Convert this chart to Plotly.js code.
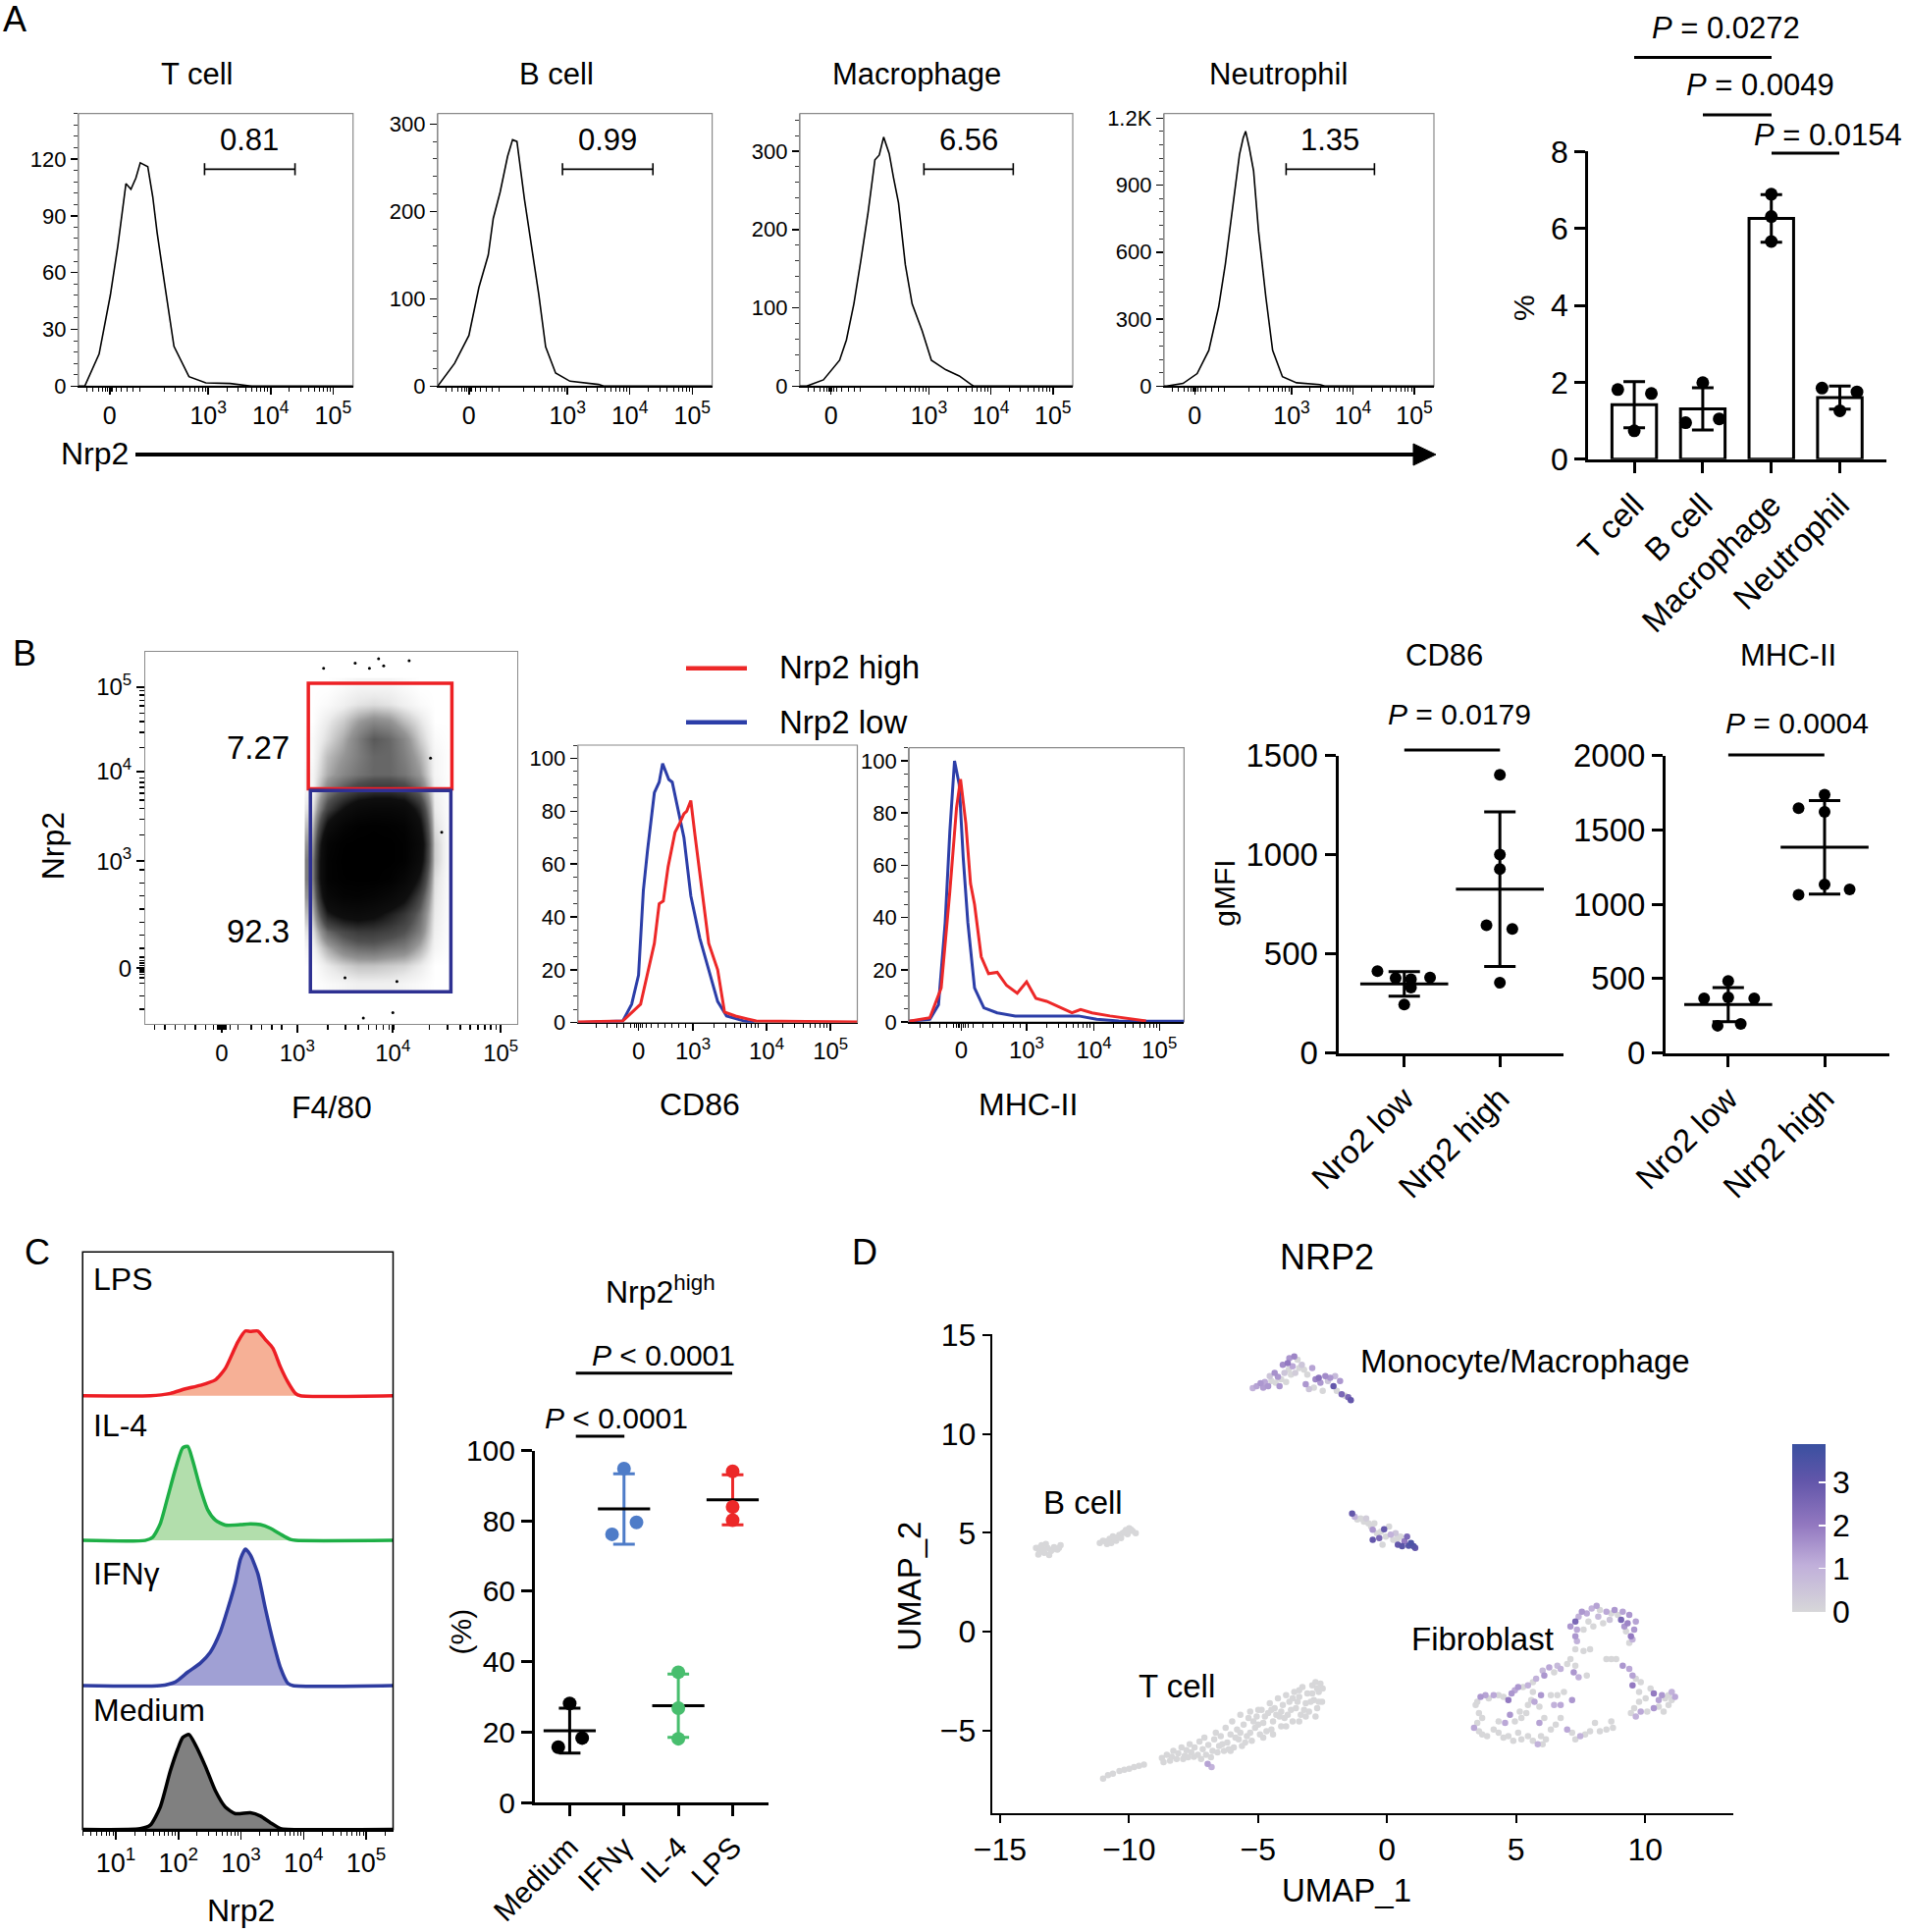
<!DOCTYPE html>
<html>
<head>
<meta charset="utf-8">
<script src="https://cdn.plot.ly/plotly-3.0.1.min.js"></script>
<style>
  body { margin: 0; background: #fff; }
  #fig { width: 1944px; height: 1968px; }
</style>
</head>
<body>
<div id="fig"></div>
<script>
// ---- A: Nrp2 histograms, x in log10 display units (FlowJo "0" sits at ~1.42) ----
var tcellU = [0.92, 1.02, 1.25, 1.43, 1.55, 1.68, 1.76, 1.84, 1.91, 2.03, 2.11, 2.18, 2.30, 2.45, 2.69, 2.96, 3.35, 3.58, 3.70, 5.32];
var tcellN = [0, 0, 17, 48, 74, 107, 104, 110, 118, 116, 100, 81, 54, 21, 5, 1.7, 1.4, 0.3, 0, 0];
var bcellU = [0.92, 1.19, 1.42, 1.58, 1.73, 1.81, 1.92, 2.04, 2.12, 2.19, 2.31, 2.42, 2.54, 2.65, 2.81, 3.04, 3.50, 3.58, 5.32];
var bcellN = [0, 26, 58, 113, 150, 192, 222, 263, 282, 280, 214, 162, 105, 45, 15, 5.6, 1.9, 0, 0];
var macU = [0.92, 1.03, 1.30, 1.56, 1.67, 1.79, 1.90, 2.02, 2.13, 2.20, 2.27, 2.36, 2.43, 2.51, 2.62, 2.73, 2.89, 3.04, 3.27, 3.49, 3.68, 3.72, 5.32];
var macN = [0, 0, 8, 33, 59, 105, 159, 222, 289, 295, 318, 297, 266, 234, 155, 105, 71, 33, 21, 13, 2, 0, 0];
var neuU = [0.92, 0.96, 1.23, 1.46, 1.65, 1.81, 1.92, 2.04, 2.15, 2.21, 2.25, 2.31, 2.38, 2.46, 2.58, 2.69, 2.85, 3.08, 3.46, 3.54, 5.32];
var neuN = [0, 0, 12, 56, 160, 354, 547, 814, 1037, 1111, 1141, 1067, 963, 695, 398, 160, 42, 15, 7, 0, 0];
var gateStart = [2.94, 2.92, 2.92, 2.91];
var gateEnd = [4.39, 4.37, 4.36, 4.35];
var gatePct = ['0.81', '0.99', '6.56', '1.35'];
var cellTypes = ['T cell', 'B cell', 'Macrophage', 'Neutrophil'];

// ---- A: % Nrp2+ bar chart ----
var pctMean = [1.42, 1.31, 6.26, 1.60];
var pctSD = [0.60, 0.55, 0.62, 0.30];
var pctPts = [[1.81, 1.71, 0.74], [1.99, 0.95, 1.05], [6.89, 6.31, 5.66], [1.85, 1.75, 1.26]];
var pctJit = [[-0.24, 0.25, 0], [0, -0.25, 0.24], [0, 0, 0], [-0.26, 0.25, 0]];

// ---- B: F4/80 vs Nrp2 dot plot (density read on a coarse grid) ----
var dotXc = [3.15, 3.3, 3.45, 3.6, 3.75, 3.9, 4.05, 4.2, 4.35, 4.5];
var dotYc = [1.6, 1.8, 2.0, 2.2, 2.4, 2.6, 2.8, 3.0, 3.2, 3.4, 3.6, 3.8, 4.0, 4.2, 4.4, 4.6, 4.8, 5.0];
var dotDensity = [
  [0, 0.01, 0.02, 0.03, 0.03, 0.03, 0.02, 0.01, 0, 0],
  [0, 0.04, 0.07, 0.09, 0.09, 0.08, 0.07, 0.04, 0, 0],
  [0.02, 0.12, 0.2, 0.24, 0.25, 0.22, 0.2, 0.12, 0.02, 0],
  [0.05, 0.25, 0.33, 0.38, 0.38, 0.35, 0.3, 0.2, 0.03, 0],
  [0.1, 0.5, 0.62, 0.65, 0.6, 0.5, 0.4, 0.25, 0.04, 0],
  [0.15, 0.75, 0.88, 0.9, 0.85, 0.75, 0.6, 0.35, 0.05, 0],
  [0.2, 0.9, 0.98, 1, 1, 0.95, 0.8, 0.5, 0.06, 0],
  [0.2, 0.9, 1, 1, 1, 1, 0.95, 0.65, 0.08, 0],
  [0.15, 0.85, 0.98, 1, 1, 1, 0.95, 0.7, 0.08, 0],
  [0.1, 0.6, 0.85, 0.95, 0.98, 0.95, 0.9, 0.6, 0.06, 0],
  [0.05, 0.35, 0.55, 0.7, 0.75, 0.75, 0.7, 0.45, 0.04, 0],
  [0.02, 0.2, 0.3, 0.38, 0.42, 0.42, 0.38, 0.25, 0.03, 0],
  [0.02, 0.12, 0.18, 0.22, 0.25, 0.25, 0.22, 0.15, 0.02, 0],
  [0.01, 0.1, 0.15, 0.2, 0.25, 0.25, 0.2, 0.12, 0.02, 0],
  [0.01, 0.06, 0.12, 0.2, 0.28, 0.25, 0.18, 0.08, 0.01, 0],
  [0, 0.04, 0.08, 0.14, 0.18, 0.16, 0.1, 0.05, 0, 0],
  [0, 0.01, 0.03, 0.05, 0.06, 0.05, 0.03, 0.01, 0, 0],
  [0, 0, 0.01, 0.02, 0.02, 0.02, 0.01, 0, 0, 0]
];
var strayX = [3.26, 3.57, 3.71, 3.80, 3.85, 4.10, 3.47, 3.98, 3.65, 3.94, 4.42, 4.31];
var strayY = [5.21, 5.27, 5.21, 5.32, 5.24, 5.30, 1.66, 1.62, 1.20, 1.26, 3.33, 4.18];
var gateHigh = [3.11, 4.52, 3.83, 5.04];
var gateLow = [3.13, 4.51, 1.50, 3.81];

// ---- B: CD86 / MHC-II overlays (% of max) ----
var cd86LowU = [1.33, 1.98, 2.11, 2.21, 2.28, 2.34, 2.44, 2.51, 2.56, 2.61, 2.65, 2.70, 2.77, 2.87, 2.97, 3.10, 3.23, 3.36, 3.49, 3.75, 3.89];
var cd86LowN = [0, 0.6, 7, 18, 50, 65, 87, 91, 98, 95, 92, 91, 82, 70, 48, 32, 20, 8, 2.5, 0.6, 0];
var cd86HighU = [1.33, 1.98, 2.24, 2.34, 2.44, 2.51, 2.57, 2.64, 2.74, 2.80, 2.87, 2.91, 2.97, 3.03, 3.13, 3.23, 3.36, 3.46, 3.62, 3.92, 5.39];
var cd86HighN = [0.3, 0.6, 7, 18, 30, 45, 46, 59, 72, 75, 79, 80, 84, 71, 50, 30, 20, 4, 2.5, 0.6, 0.3];
var mhcLowU = [1.24, 1.55, 1.68, 1.78, 1.85, 1.92, 1.99, 2.05, 2.12, 2.22, 2.36, 2.56, 2.83, 3.37, 3.78, 4.05, 4.38, 5.36];
var mhcLowN = [0.3, 1, 6.6, 38, 73, 100, 91, 63, 38, 13, 5.4, 3.5, 2.3, 2.3, 2.3, 1, 0.4, 0.3];
var mhcHighU = [1.24, 1.55, 1.72, 1.85, 1.95, 2.01, 2.09, 2.16, 2.22, 2.32, 2.43, 2.56, 2.70, 2.86, 3.0, 3.14, 3.30, 3.51, 3.68, 3.81, 3.98, 4.25, 4.59, 4.79];
var mhcHighN = [0.3, 1.6, 13, 50, 82, 93, 76, 53, 45, 25, 18.5, 19, 14, 11, 15.4, 9, 7.9, 5.4, 3.5, 4.8, 3.5, 2.3, 1, 0.4];

// ---- B: gMFI ----
var gmfiCats = ['Nro2 low', 'Nrp2 high'];
var cd86Low = [413, 378, 372, 381, 244, 330];
var cd86LowJit = [-0.28, -0.09, 0.07, 0.27, 0, 0.07];
var cd86High = [1403, 1001, 928, 644, 625, 354];
var cd86HighJit = [0, 0, 0, -0.14, 0.13, 0];
var cd86Mean = [348, 826];
var cd86SD = [62, 390];
var mhcLow = [484, 367, 374, 367, 183, 196];
var mhcLowJit = [0, -0.25, 0, 0.27, -0.11, 0.13];
var mhcHigh = [1736, 1646, 1621, 1064, 1132, 1100];
var mhcHighJit = [0, -0.27, 0, -0.27, 0, 0.26];
var mhcMean = [325, 1383];
var mhcSD = [114, 314];

// ---- C: stimulated macrophages, Nrp2 (log10) ----
var lpsU = [0.47, 1.55, 1.87, 2.11, 2.35, 2.59, 2.75, 2.87, 2.95, 3.07, 3.15, 3.27, 3.39, 3.51, 3.63, 3.75, 3.87, 3.95, 5.43];
var lpsN = [0, 0, 1.6, 4.7, 7.2, 11, 19, 30, 37.5, 45, 44.7, 45, 39, 33, 20, 9.4, 1.6, 0, 0];
var il4U = [0.47, 1.47, 1.59, 1.71, 1.83, 1.95, 2.07, 2.15, 2.23, 2.35, 2.47, 2.59, 2.75, 2.99, 3.15, 3.31, 3.47, 3.63, 3.79, 3.87, 5.43];
var il4N = [0, 0, 2.2, 11.5, 30, 49, 64, 65, 55, 36, 21, 14, 10.6, 10.9, 11.5, 10.9, 8.4, 4.3, 0.6, 0, 0];
var ifnU = [0.47, 1.71, 1.95, 2.15, 2.35, 2.51, 2.67, 2.79, 2.91, 2.99, 3.07, 3.15, 3.27, 3.39, 3.51, 3.63, 3.75, 3.83, 5.43];
var ifnN = [0, 0, 2.5, 9.3, 15.5, 23, 37, 53, 71, 87, 94, 90, 77, 53, 31, 12.4, 1.5, 0, 0];
var medU = [0.47, 1.39, 1.55, 1.71, 1.87, 1.99, 2.07, 2.17, 2.27, 2.43, 2.59, 2.75, 2.91, 3.15, 3.31, 3.47, 3.63, 3.75, 5.43];
var medN = [0, 0.6, 3, 15.6, 40.6, 56, 64, 66, 59, 44, 27, 15.6, 11, 11.6, 9.4, 4.7, 0.6, 0, 0];

var conds = ['Medium', 'IFNγ', 'IL-4', 'LPS'];
var highPts = [[28.1, 15.7, 18.3], [94.9, 79.6, 76.2], [37, 26.8, 18.1], [94.1, 84, 80.2]];
var highJit = [[0, -0.21, 0.23], [0, 0.23, -0.22], [0, 0, 0], [0, 0, 0]];
var highMean = [20.4, 83.4, 27.5, 86.0];
var highSD = [6.4, 10.0, 9.0, 7.1];

// ---- D: UMAP, NRP2 expression ----
var monoX = [-5.205, -5.053, -4.901, -4.80, -4.737, -4.61, -4.547, -4.483, -4.357, -4.318, -4.23, -4.167, -4.103, -4.04, -3.977, -3.913, -3.85, -3.812, -3.787, -3.723, -3.66, -3.597, -3.559, -3.47, -3.407, -3.305, -3.217, -3.153, -3.09, -3.027, -2.90, -2.837, -2.773, -2.647, -2.583, -2.495, -2.393, -2.292, -2.203, -2.077, -2.014, -1.95, -1.823, -1.76, -1.634, -1.507, -1.406,
  -1.355, -1.254, -1.152, -1.026, -0.899, -0.81, -0.722, -0.62, -0.557, -0.494, -0.392, -0.304, -0.24, -0.114, -0.05, 0.076, 0.14, 0.24, 0.33, 0.418, 0.52, 0.583, 0.672, 0.773, 0.836, 0.925, 1.026, 1.09, 0.393, -0.557, -0.177];
var monoY = [12.31, 12.42, 12.56, 12.34, 12.62, 12.42, 12.92, 12.67, 13.09, 12.59, 12.89, 12.42, 12.76, 13.50, 13.09, 12.62, 13.58, 13.25, 13.83, 13.0, 13.42, 13.91, 13.09, 13.75, 13.33, 13.5, 13.25, 12.51, 13.0, 12.26, 13.33, 12.34, 12.76, 12.84, 12.59, 12.18, 12.92, 12.67, 12.84, 12.42, 12.92, 12.18, 12.67, 12.01, 11.93, 11.85, 11.71,
  5.97, 5.81, 5.67, 5.72, 5.56, 5.72, 5.48, 5.31, 5.15, 5.48, 4.98, 4.73, 5.06, 5.18, 4.81, 5.31, 4.90, 4.65, 4.98, 4.40, 4.81, 4.32, 4.57, 4.81, 4.35, 4.48, 4.32, 4.24, 4.68, 4.65, 4.40];
var monoE = [1.0, 1.3, 1.5, 1.4, 1.2, 1.5, 0.5, 0, 1.6, 0, 1.5, 1.5, 0, 1.7, 0.5, 0, 2.0, 0, 1.5, 0, 1.2, 1.8, 0.3, 0, 0, 0.5, 0, 1.5, 0, 0.5, 1.3, 0, 1.8, 2.2, 1.5, 0, 1.7, 0.5, 1.5, 3.0, 0.8, 0, 1.5, 2.5, 0, 2.5, 3.0,
  3.0, 1.0, 0, 0, 0, 0.3, 0, 0, 1.5, 0, 0, 2.5, 0, 3.0, 0, 0, 1.0, 0, 0.5, 3.0, 0, 3.2, 2.0, 2.5, 3.3, 3.5, 3.3, 3.0, 0, 3.0, 0];
var bX = [-13.602, -13.475, -13.387, -13.285, -13.159, -13.032, -12.905, -12.779, -12.652, -13.513, -13.095, -13.222, -13.349, -12.969, -12.716, -13.437,
  -11.132, -11.006, -10.854, -10.752, -10.626, -10.499, -10.373, -10.246, -10.119, -9.993, -9.866, -9.739, -10.689, -10.309, -10.056, -10.904, -10.563, -10.182, -9.929, -10.436];
var bY = [4.235, 4.07, 4.367, 3.987, 4.235, 4.07, 4.268, 4.152, 4.367, 3.904, 3.871, 4.433, 4.152, 4.152, 4.235, 4.268,
  4.483, 4.599, 4.434, 4.698, 4.814, 4.599, 4.897, 4.979, 5.145, 5.228, 5.095, 4.979, 4.483, 4.731, 4.93, 4.566, 4.698, 5.029, 5.161, 4.764];
var bE = [0, 0, 0, 0, 0, 0, 0, 0, 0, 0, 0, 0, 0, 0, 0, 0, 0, 0, 0, 0, 0, 0, 0, 0, 0, 0, 0, 0, 0, 0, 0, 0, 0, 0, 0, 0];
var tX = [-11.005, -10.815, -10.625, -10.372, -10.182, -9.992, -9.802, -9.612, -9.422,
  -8.726, -8.536, -8.346, -8.282, -8.092, -7.966, -7.839, -7.776, -7.649, -7.586, -7.459, -7.333, -7.269, -7.143, -7.079, -7.016, -6.927, -6.826, -6.763, -6.699, -6.636, -6.509, -6.446, -6.319, -6.256, -6.193, -6.066, -6.003, -5.939, -5.813, -5.749, -5.686, -5.623, -5.559, -5.433, -5.37, -5.306, -5.243, -5.116, -5.053, -4.926, -4.863, -4.8, -4.673, -4.61, -4.546, -4.42, -4.356, -4.23, -4.166, -4.103, -4.04, -3.913, -3.85, -3.786, -3.66, -3.596, -3.533, -3.406, -3.343, -3.28, -3.153, -3.09, -3.026, -2.9, -2.836, -2.773, -2.71, -2.647, -2.52, -2.495, -2.773,
  -8.662, -8.409, -8.156, -7.903, -7.712, -7.485, -7.206, -6.573, -6.383, -6.13, -5.876, -5.686, -5.496, -5.306, -5.18, -4.99, -4.736, -4.483, -4.293, -3.976, -3.723, -3.47, -3.216, -2.963, -2.71, -2.583, -3.406, -3.66, -4.103, -4.483, -4.99, -4.8, -4.42, -3.913, -3.406, -3.153, -2.647, -2.9, -6.066,
  -6.953, -6.801];
var tY = [-7.428, -7.262, -7.18, -7.047, -6.981, -6.932, -6.849, -6.783, -6.717,
  -6.386, -6.22, -6.32, -6.022, -6.154, -5.856, -6.27, -5.989, -5.691, -6.105, -5.856, -6.22, -5.559, -5.939, -5.36, -6.22, -5.724, -6.353, -6.022, -5.443, -5.112, -5.774, -5.277, -6.022, -4.864, -5.608, -5.195, -4.533, -5.856, -4.946, -5.443, -4.202, -5.774, -4.698, -5.277, -4.367, -4.037, -5.525, -4.864, -4.285, -5.195, -3.954, -4.616, -5.029, -4.119, -3.623, -4.533, -3.871, -3.375, -4.285, -4.781, -3.706, -3.209, -4.202, -3.54, -4.533, -3.044, -3.871, -3.292, -4.202, -2.796, -3.623, -3.127, -4.037, -2.713, -3.458, -2.548, -3.871, -3.044, -3.54, -2.879, -4.285,
  -6.601, -6.518, -6.435, -6.435, -6.353, -6.32, -6.435, -6.105, -5.691, -5.939, -5.36, -5.112, -5.608, -5.112, -4.533, -4.698, -4.285, -4.946, -4.202, -4.367, -3.954, -3.54, -3.954, -3.54, -2.879, -2.63, -2.961, -3.375, -4.037, -3.954, -3.954, -5.36, -5.195, -4.781, -4.533, -4.285, -3.54, -3.127, -6.022,
  -6.684, -6.849];
var tE = [0, 0, 0, 0, 0, 0, 0, 0, 0,
  0, 0, 0, 0, 0, 0, 0, 0, 0, 0, 0, 0, 0, 0, 0, 0, 0, 0, 0, 0, 0, 0, 0, 0, 0, 0, 0, 0, 0, 0, 0, 0, 0, 0, 0, 0, 0, 0, 0, 0, 0, 0, 0, 0, 0, 0, 0, 0, 0, 0, 0, 0, 0, 0, 0, 0, 0, 0, 0, 0, 0, 0, 0, 0, 0, 0, 0, 0, 0, 0, 0, 0,
  0, 0, 0, 0, 0, 0, 0, 0, 0, 0, 0, 0, 0, 0, 0, 0, 0, 0, 0, 0, 0, 0, 0, 0, 0, 0, 0, 0, 0, 0, 0, 0, 0, 0, 0, 0, 0, 0, 0,
  1.3, 1.0];
var fibX = [7.105, 7.295, 7.358, 7.422, 7.295, 7.358, 7.548, 7.612, 7.738, 7.802, 7.928, 7.992, 8.118, 8.182, 8.245, 8.372, 8.498, 8.625, 8.688, 8.815, 8.941, 9.068, 9.131, 9.195, 9.258, 9.321, 9.385, 9.448, 9.511, 9.575, 9.638, 9.385, 7.295, 7.612, 7.865,
  7.105, 7.295, 6.978, 7.232, 7.422, 7.738, 6.725, 6.598, 6.472, 6.282, 6.092, 6.028, 5.775, 5.649, 5.459, 5.268, 5.079, 4.952, 4.825, 4.699, 4.509, 4.319, 4.129, 3.939, 3.812, 3.622, 3.495, 3.432, 3.559, 3.685, 3.495, 3.369, 3.559, 3.685, 3.875, 4.129, 4.319, 4.509, 4.699, 4.889, 5.079, 5.205, 5.459, 5.649, 5.838, 6.028, 5.965, 6.155, 6.345, 6.535, 6.725, 6.978, 7.168, 7.295, 7.485, 7.675, 7.865, 8.055, 8.245, 8.498, 8.688, 8.752,
  4.762, 4.952, 5.142, 5.205, 5.395, 5.459, 5.585, 5.712, 5.902, 5.965, 6.092, 5.902, 6.345, 6.472, 6.598, 6.725, 6.852, 7.168, 4.572, 4.319, 5.649,
  8.498, 8.688, 8.878, 9.131, 9.385, 9.511, 9.638, 9.511, 9.828, 9.765, 10.208, 10.335, 10.018, 9.765, 9.575, 9.448, 9.638, 9.828, 10.081, 10.335, 10.525, 10.651, 10.778, 10.905, 11.031, 11.158, 10.715, 10.905, 10.525, 11.031];
var fibY = [0.265, 0.513, 0.099, 0.761, -0.232, -0.48, 1.009, 0.099, 0.926, 0.513, 1.174, 0.265, 1.307, 0.761, 1.092, 0.43, 1.009, 0.596, 0.926, 1.092, 0.844, 0.596, 1.009, 0.265, 0.016, 0.43, 0.844, -0.232, -0.397, 0.099, 0.513, -0.563, -0.893, -0.976, -0.893,
  -1.39, -1.721, -1.638, -2.051, -2.3, -2.217, -1.886, -1.721, -2.051, -1.804, -2.217, -1.969, -2.382, -2.548, -2.713, -2.796, -2.796, -2.961, -3.127, -3.458, -3.292, -3.209, -3.209, -3.375, -3.209, -3.292, -3.54, -3.706, -4.119, -4.367, -4.616, -4.864, -5.029, -5.195, -5.277, -4.946, -5.112, -5.36, -5.277, -5.525, -5.112, -5.443, -5.277, -5.525, -5.691, -5.691, -5.277, -5.443, -4.946, -4.698, -4.367, -4.946, -5.112, -5.443, -5.277, -5.195, -5.029, -4.616, -5.029, -4.946, -4.533, -4.864,
  -4.202, -4.533, -4.037, -4.367, -4.119, -3.706, -3.458, -3.54, -3.788, -3.209, -4.367, -4.616, -3.209, -3.706, -3.209, -3.706, -3.044, -3.458, -4.616, -4.533, -3.044,
  -1.39, -1.39, -1.39, -1.721, -1.886, -2.217, -2.382, -2.713, -2.548, -3.044, -2.879, -3.127, -3.375, -3.54, -3.871, -4.119, -4.285, -4.037, -4.037, -3.871, -3.788, -3.209, -3.375, -3.209, -3.458, -3.292, -4.037, -3.706, -3.458, -3.044];
var fibE = [1.5, 2.5, 1.2, 1.0, 1.5, 1.0, 1.5, 0, 1.2, 0, 1.0, 0, 1.3, 0.8, 0, 0, 1.2, 0.5, 0, 1.5, 0, 2.5, 1.3, 1.5, 0, 1.8, 1.5, 2.0, 1.0, 1.5, 1.3, 0, 0, 0, 0,
  0, 0, 0, 1.5, 1.0, 0, 1.0, 0.8, 0, 1.2, 1.5, 0.8, 1.0, 0, 1.0, 0, 1.5, 1.2, 1.5, 2.0, 0, 0, 1.2, 0, 1.3, 1.5, 0, 0, 0, 0, 0, 1.2, 0, 0, 0, 0, 0, 0, 0, 0, 0, 0, 0, 0, 1.0, 0, 0, 0, 0, 0, 0, 1.2, 0, 0, 1.0, 0, 0, 0, 0, 0, 0, 0,
  1.5, 0, 0, 0, 0, 0, 0, 1.2, 0, 1.5, 0, 1.3, 0, 1.0, 0, 1.2, 0, 1.5, 1.2, 0, 0,
  0, 0, 0, 1.5, 1.2, 1.3, 0, 2.0, 0, 0, 0, 2.0, 0, 0, 0, 0, 1.0, 1.2, 0, 1.5, 0, 1.5, 0, 0, 0, 1.2, 0, 0, 1.3, 1.0];
var clusterNames = ['Monocyte/Macrophage', 'B cell', 'Fibroblast', 'T cell'];
var clusterLabelX = [-1.13, -13.4, 0.87, -9.71];
var clusterLabelY = [13.68, 6.55, -0.35, -2.73];

// ================= layout helpers =================
var W = 1944, H = 1968;
var F = 'Liberation Sans, Arial, Helvetica, sans-serif';
function fx(p) { return p / W; }
function fy(p) { return 1 - p / H; }
function ax(n) { return n === 1 ? '' : String(n); }
function sup(n) { return '10<sup>' + n + '</sup>'; }
function logMinor(d0, d1) {
  var v = [];
  for (var d = d0; d <= d1; d++) for (var k = 2; k < 10; k++) v.push(d + Math.log10(k));
  return v;
}
function stepTicks(step, max) {
  var v = [];
  for (var t = 0; t <= max + 1e-9; t += step) v.push(t);
  return v;
}
var nearZero = [1.05, 1.15, 1.24, 1.31, 1.36, 1.39, 1.41, 1.44, 1.47, 1.52, 1.6, 1.7, 1.8, 1.9];

var data = [], shapes = [], ann = [];
var L = {
  width: W, height: H, margin: {l: 0, r: 0, t: 0, b: 0},
  paper_bgcolor: 'white', plot_bgcolor: 'rgba(0,0,0,0)',
  showlegend: false, hovermode: false,
  font: {family: F, color: 'black', size: 22},
  shapes: shapes, annotations: ann
};

function txt(px, py, s, size, opt) {
  var a = {x: fx(px), y: fy(py), xref: 'paper', yref: 'paper', text: s, showarrow: false,
    font: {size: size, family: F, color: 'black'}, xanchor: 'center', yanchor: 'middle'};
  for (var k in (opt || {})) a[k] = opt[k];
  ann.push(a);
}
function pline(x0, x1, py, w, color) {
  shapes.push({type: 'line', xref: 'paper', yref: 'paper', x0: fx(x0), x1: fx(x1), y0: fy(py), y1: fy(py),
    line: {color: color || 'black', width: w || 3}});
}

// FlowJo-style histogram axes
function flowAxes(n, xd, yd, xr, yr, xtv, ytv, ytt, xminor, yminor, xfont, yfont) {
  L['xaxis' + ax(n)] = {domain: [fx(xd[0]), fx(xd[1])], range: xr, anchor: 'y' + ax(n),
    tickmode: 'array', tickvals: xtv, ticktext: ['0', sup(3), sup(4), sup(5)],
    ticks: 'outside', ticklen: 7, tickwidth: 1.5, tickcolor: 'black',
    showline: true, linecolor: 'black', linewidth: 1.5, showgrid: false, zeroline: false,
    tickfont: {size: xfont}, minor: {tickmode: 'array', tickvals: xminor, ticks: 'outside', ticklen: 4, tickcolor: 'black', tickwidth: 1}};
  L['yaxis' + ax(n)] = {domain: [fy(yd[1]), fy(yd[0])], range: yr, anchor: 'x' + ax(n),
    tickmode: 'array', tickvals: ytv, ticktext: ytt,
    ticks: 'outside', ticklen: 7, tickwidth: 1.5, tickcolor: 'black',
    showline: true, linecolor: '#8a8a8a', linewidth: 1.2, showgrid: false, zeroline: false,
    tickfont: {size: yfont}, minor: {tickmode: 'array', tickvals: yminor, ticks: 'outside', ticklen: 4, tickcolor: '#333', tickwidth: 1}};
  shapes.push({type: 'rect', xref: 'x' + ax(n) + ' domain', yref: 'y' + ax(n) + ' domain', x0: 0, x1: 1, y0: 0, y1: 1,
    line: {color: '#8a8a8a', width: 1.2}, layer: 'below'});
}

// Prism-style scatter / bar axes
function prismAxes(n, xd, yd, xr, yr, cats, ytv, yfont, cfont) {
  L['xaxis' + ax(n)] = {domain: [fx(xd[0]), fx(xd[1])], range: xr, anchor: 'y' + ax(n),
    tickmode: 'array', tickvals: cats.map(function (c, i) { return i; }), ticktext: cats, tickangle: -45,
    ticks: 'outside', ticklen: 11, tickwidth: 3, tickcolor: 'black',
    showline: true, linewidth: 3, linecolor: 'black', showgrid: false, zeroline: false, tickfont: {size: cfont}};
  L['yaxis' + ax(n)] = {domain: [fy(yd[1]), fy(yd[0])], range: yr, anchor: 'x' + ax(n),
    tickmode: 'array', tickvals: ytv,
    ticks: 'outside', ticklen: 11, tickwidth: 3, tickcolor: 'black',
    showline: true, linewidth: 3, linecolor: 'black', showgrid: false, zeroline: false, tickfont: {size: yfont}};
}

function meanBars(n, means, sds, color, lineW, capW, errColor) {
  data.push({type: 'scatter', mode: 'markers', x: means.map(function (m, i) { return i; }), y: means,
    xaxis: 'x' + ax(n), yaxis: 'y' + ax(n), cliponaxis: false,
    marker: {symbol: 'line-ew', size: lineW, color: color, line: {color: color, width: 3}},
    error_y: {type: 'data', array: sds, visible: true, color: errColor || color, thickness: 3, width: capW}});
}
function dots(n, pos, vals, jit, color, size) {
  data.push({type: 'scatter', mode: 'markers', x: jit.map(function (j) { return pos + j; }), y: vals,
    xaxis: 'x' + ax(n), yaxis: 'y' + ax(n), cliponaxis: false,
    marker: {size: size, color: color}});
}

// ================= Panel A: histograms =================
var histA = [
  {u: tcellU, n: tcellN, ymax: 144, yt: [0, 30, 60, 90, 120], ytt: ['0', '30', '60', '90', '120'], step: 6},
  {u: bcellU, n: bcellN, ymax: 312, yt: [0, 100, 200, 300], ytt: ['0', '100', '200', '300'], step: 20},
  {u: macU, n: macN, ymax: 348, yt: [0, 100, 200, 300], ytt: ['0', '100', '200', '300'], step: 20},
  {u: neuU, n: neuN, ymax: 1220, yt: [0, 300, 600, 900, 1200], ytt: ['0', '300', '600', '900', '1.2K'], step: 60}
];
var histABox = [[80, 359.7], [446, 725.6], [815, 1093], [1186, 1461]];
var histATitleX = [201, 567, 934, 1302];
var flowMinorA = nearZero.concat(logMinor(2, 4));
histA.forEach(function (h, i) {
  var n = i + 1;
  flowAxes(n, histABox[i], [115.7, 393.3], [0.92, 5.32], [0, h.ymax], [1.42, 3, 4, 5], h.yt, h.ytt,
    flowMinorA, stepTicks(h.step, h.ymax), 25, 22);
  data.push({type: 'scatter', mode: 'lines', x: h.u, y: h.n, xaxis: 'x' + ax(n), yaxis: 'y' + ax(n),
    line: {color: 'black', width: 1.6}});
  var xr = 'x' + ax(n), yr = 'y' + ax(n) + ' domain';
  shapes.push({type: 'line', xref: xr, yref: yr, x0: gateStart[i], x1: gateEnd[i], y0: 0.796, y1: 0.796, line: {color: 'black', width: 1.6}});
  shapes.push({type: 'line', xref: xr, yref: yr, x0: gateStart[i], x1: gateStart[i], y0: 0.774, y1: 0.818, line: {color: 'black', width: 1.6}});
  shapes.push({type: 'line', xref: xr, yref: yr, x0: gateEnd[i], x1: gateEnd[i], y0: 0.774, y1: 0.818, line: {color: 'black', width: 1.6}});
  ann.push({xref: xr, yref: yr, x: (gateStart[i] + gateEnd[i]) / 2, y: 0.905, text: gatePct[i], showarrow: false,
    font: {size: 31, family: F}, xanchor: 'center', yanchor: 'middle'});
  txt(histATitleX[i], 76, cellTypes[i], 31);
});
// Nrp2 arrow under the histograms
txt(96, 462, 'Nrp2', 32);
pline(138, 1446, 463, 4);
shapes.push({type: 'path', xref: 'paper', yref: 'paper', fillcolor: 'black', line: {color: 'black', width: 1},
  path: 'M ' + fx(1440) + ' ' + fy(452) + ' L ' + fx(1463) + ' ' + fy(463) + ' L ' + fx(1440) + ' ' + fy(474) + ' Z'});

// ================= Panel A: bar chart =================
prismAxes(5, [1618.3, 1921.7], [154.3, 467.8], [-0.67, 3.675], [0, 8], cellTypes, [0, 2, 4, 6, 8], 32, 33);
data.push({type: 'bar', x: [0, 1, 2, 3], y: pctMean, width: 0.65, xaxis: 'x5', yaxis: 'y5',
  marker: {color: 'white', line: {color: 'black', width: 3}},
  error_y: {type: 'data', array: pctSD, visible: true, color: 'black', thickness: 3, width: 11}});
pctPts.forEach(function (p, i) { dots(5, i, p, pctJit[i], 'black', 13); });
txt(1552, 314, '%', 30, {textangle: -90});
pline(1665, 1805, 58.4, 3);  txt(1758, 28.6, '<i>P</i> = 0.0272', 31);
pline(1735, 1805, 117, 3);   txt(1793, 86.5, '<i>P</i> = 0.0049', 31);
pline(1805, 1874, 156, 3);   txt(1862, 138, '<i>P</i> = 0.0154', 31);

// ================= Panel B: dot plot =================
L.xaxis6 = {domain: [fx(148.2), fx(526.8)], range: [1.51, 5.16], anchor: 'y6',
  tickmode: 'array', tickvals: [2.26, 3, 3.94, 5.0], ticktext: ['0', sup(3), sup(4), sup(5)],
  ticks: 'outside', ticklen: 8, tickwidth: 2, tickcolor: 'black', showline: true, mirror: true, linecolor: '#8a8a8a', linewidth: 1.2,
  showgrid: false, zeroline: false, tickfont: {size: 24},
  minor: {tickmode: 'array', tickvals: [1.6, 1.7, 1.8, 1.9, 2.0, 2.1, 2.18, 2.22, 2.24, 2.28, 2.3, 2.34, 2.42, 2.55, 2.65, 2.75, 2.85].concat(logMinor(3, 4)), ticks: 'outside', ticklen: 5, tickcolor: 'black', tickwidth: 1.5}};
L.yaxis6 = {domain: [fy(1042.7), fy(664)], range: [1.135, 5.40], anchor: 'x6',
  tickmode: 'array', tickvals: [1.77, 3, 4.03, 5.0], ticktext: ['0', sup(3), sup(4), sup(5)],
  ticks: 'outside', ticklen: 8, tickwidth: 2, tickcolor: 'black', showline: true, mirror: true, linecolor: '#8a8a8a', linewidth: 1.2,
  showgrid: false, zeroline: false, tickfont: {size: 24},
  minor: {tickmode: 'array', tickvals: [1.3, 1.45, 1.6, 1.66, 1.7, 1.73, 1.75, 1.8, 1.83, 1.86, 1.9, 2.0, 2.15, 2.3, 2.45, 2.6, 2.75, 2.9].concat(logMinor(3, 4)), ticks: 'outside', ticklen: 5, tickcolor: 'black', tickwidth: 1.5}};
data.push({type: 'heatmap', x: dotXc, y: dotYc, z: dotDensity, xaxis: 'x6', yaxis: 'y6', zsmooth: 'best',
  zmin: 0, zmax: 1, showscale: false, hoverinfo: 'skip',
  colorscale: [[0, 'rgb(255,255,255)'], [0.04, 'rgb(235,235,235)'], [0.15, 'rgb(150,150,150)'], [0.3, 'rgb(80,80,80)'], [0.55, 'rgb(15,15,15)'], [1, 'rgb(0,0,0)']]});
data.push({type: 'scatter', mode: 'markers', x: strayX, y: strayY, xaxis: 'x6', yaxis: 'y6', marker: {size: 3, color: 'black'}});
shapes.push({type: 'rect', xref: 'x6', yref: 'y6', x0: gateHigh[0], x1: gateHigh[1], y0: gateHigh[2], y1: gateHigh[3], line: {color: 'rgb(237,32,36)', width: 3.5}});
shapes.push({type: 'rect', xref: 'x6', yref: 'y6', x0: gateLow[0], x1: gateLow[1], y0: gateLow[2], y1: gateLow[3], line: {color: 'rgb(46,49,146)', width: 3.5}});
txt(262.5, 761.7, '7.27', 33);
txt(262.5, 948, '92.3', 33);
txt(53.6, 861.7, 'Nrp2', 32, {textangle: -90});
txt(337.5, 1128, 'F4/80', 32);

// ================= Panel B: CD86 / MHC-II overlays =================
var red = 'rgb(237,40,40)', blue = 'rgb(44,62,168)';
flowAxes(7, [588.9, 873.5], [759, 1041.7], [1.33, 5.39], [0, 105], [2.21, 3, 4.07, 5.0], [0, 20, 40, 60, 80, 100],
  ['0', '20', '40', '60', '80', '100'], [1.6, 1.75, 1.9, 2.0, 2.1, 2.15, 2.18, 2.24, 2.27, 2.32, 2.4, 2.5, 2.6, 2.7, 2.8, 2.9].concat(logMinor(3, 4)), stepTicks(5, 105), 24, 22);
flowAxes(8, [926.3, 1206.4], [761.7, 1041], [1.24, 5.36], [0, 105], [2.02, 3, 4.01, 4.99], [0, 20, 40, 60, 80, 100],
  ['0', '20', '40', '60', '80', '100'], [1.4, 1.55, 1.7, 1.8, 1.9, 1.95, 1.98, 2.0, 2.05, 2.08, 2.12, 2.2, 2.35, 2.5, 2.65, 2.8, 2.9].concat(logMinor(3, 4)), stepTicks(5, 105), 24, 22);
data.push({type: 'scatter', mode: 'lines', x: cd86LowU, y: cd86LowN, xaxis: 'x7', yaxis: 'y7', line: {color: blue, width: 3}});
data.push({type: 'scatter', mode: 'lines', x: cd86HighU, y: cd86HighN, xaxis: 'x7', yaxis: 'y7', line: {color: red, width: 3}});
data.push({type: 'scatter', mode: 'lines', x: mhcLowU, y: mhcLowN, xaxis: 'x8', yaxis: 'y8', line: {color: blue, width: 3}});
data.push({type: 'scatter', mode: 'lines', x: mhcHighU, y: mhcHighN, xaxis: 'x8', yaxis: 'y8', line: {color: red, width: 3}});
pline(699, 761, 680.7, 4.5, red);  txt(792, 680, 'Nrp2 high', 33, {xanchor: 'left'});
pline(699, 761, 735.7, 4.5, blue); txt(792, 735, 'Nrp2 low', 33, {xanchor: 'left'});
txt(712.8, 1125, 'CD86', 32);
txt(1047, 1125, 'MHC-II', 32);

// ================= Panel B: gMFI =================
prismAxes(9, [1363.5, 1592.5], [769.6, 1072.6], [-0.69, 1.66], [0, 1500], gmfiCats, [0, 500, 1000, 1500], 33, 33);
prismAxes(10, [1697, 1924.8], [769.6, 1072.6], [-0.65, 1.67], [0, 2000], gmfiCats, [0, 500, 1000, 1500, 2000], 33, 33);
dots(9, 0, cd86Low, cd86LowJit, 'black', 12);
dots(9, 1, cd86High, cd86HighJit, 'black', 12);
meanBars(9, cd86Mean, cd86SD, 'black', 64, 16);
dots(10, 0, mhcLow, mhcLowJit, 'black', 12);
dots(10, 1, mhcHigh, mhcHighJit, 'black', 12);
meanBars(10, mhcMean, mhcSD, 'black', 64, 16);
txt(1471, 668, 'CD86', 31);
txt(1821.5, 668, 'MHC-II', 31);
pline(1430.8, 1528.3, 764, 3);   txt(1487, 727, '<i>P</i> = 0.0179', 30);
pline(1760.9, 1858.8, 769, 3);   txt(1830.5, 736, '<i>P</i> = 0.0004', 30);
txt(1246.7, 910, 'gMFI', 30, {textangle: -90});

// ================= Panel C: stacked histograms =================
var cPanels = [
  {b: 1863.6, t: 1717, pad: 0, u: medU, n: medN, line: 'rgb(0,0,0)', fill: 'rgb(128,128,128)', label: 'Medium', ly: 1742},
  {b: 1717, t: 1569.1, pad: 3, u: ifnU, n: ifnN, line: 'rgb(46,60,160)', fill: 'rgb(160,160,212)', label: 'IFNγ', ly: 1602.6},
  {b: 1569.1, t: 1421.7, pad: 3, u: il4U, n: il4N, line: 'rgb(30,175,70)', fill: 'rgb(178,222,172)', label: 'IL-4', ly: 1451.5},
  {b: 1421.7, t: 1275.2, pad: 3, u: lpsU, n: lpsN, line: 'rgb(237,30,36)', fill: 'rgb(246,176,150)', label: 'LPS', ly: 1302.7}
];
L.xaxis11 = {domain: [fx(84.2), fx(400.5)], range: [0.47, 5.43], anchor: 'y11',
  tickmode: 'array', tickvals: [1, 2, 3, 4, 5], ticktext: [sup(1), sup(2), sup(3), sup(4), sup(5)],
  ticks: 'outside', ticklen: 8, tickwidth: 1.5, tickcolor: 'black', showline: true, linecolor: 'black', linewidth: 2.5,
  showgrid: false, zeroline: false, tickfont: {size: 27},
  minor: {tickmode: 'array', tickvals: logMinor(0, 5), ticks: 'outside', ticklen: 4, tickcolor: 'black', tickwidth: 1}};
cPanels.forEach(function (p, i) {
  var n = 11 + i;
  L['yaxis' + n] = {domain: [fy(p.b + p.pad), fy(p.t)], range: [-p.pad * 100 / (p.b - p.t), 100], anchor: 'x11',
    showline: false, showticklabels: false, ticks: '', showgrid: false, zeroline: false};
  data.push({type: 'scatter', mode: 'lines', x: p.u, y: p.n, xaxis: 'x11', yaxis: 'y' + n, fill: 'tozeroy',
    fillcolor: p.fill, line: {color: p.line, width: 3.5, shape: 'spline', smoothing: 0.6}});
  txt(93.4, p.ly, p.label, 32, {xanchor: 'left'});
});
shapes.push({type: 'rect', xref: 'paper', yref: 'paper', x0: fx(84.2), x1: fx(400.5), y0: fy(1863.6), y1: fy(1275.2),
  line: {color: 'black', width: 1.5}});
txt(245, 1946, 'Nrp2', 32);

// ================= Panel C: Nrp2-high % =================
var condColors = ['rgb(0,0,0)', 'rgb(78,124,200)', 'rgb(72,190,110)', 'rgb(236,40,40)'];
prismAxes(15, [545, 783], [1477.6, 1836], [-0.64, 3.66], [0, 100], conds, [0, 20, 40, 60, 80, 100], 30, 30);
L.xaxis15.ticklabelstandoff = 2;
highPts.forEach(function (p, i) {
  data.push({type: 'scatter', mode: 'markers', x: [i], y: [highMean[i]], xaxis: 'x15', yaxis: 'y15', cliponaxis: false,
    marker: {symbol: 'line-ew', size: 38, color: 'black', line: {color: 'black', width: 3}},
    error_y: {type: 'data', array: [highSD[i]], visible: true, color: condColors[i], thickness: 3, width: 11}});
  dots(15, i, p, highJit[i], condColors[i], 14);
});
txt(673, 1314, 'Nrp2<sup>high</sup>', 32);
pline(586.7, 746, 1398.8, 3);  txt(676, 1380.5, '<i>P</i> < 0.0001', 30);
pline(586.7, 636.2, 1463, 3);  txt(627.6, 1444.6, '<i>P</i> < 0.0001', 30);
txt(469.4, 1662, '(%)', 30, {textangle: -90});

// ================= Panel D: UMAP =================
var umX = monoX.concat(bX, tX, fibX);
var umY = monoY.concat(bY, tY, fibY);
var umE = monoE.concat(bE, tE, fibE);
var order = umE.map(function (e, i) { return i; }).sort(function (a, b) { return umE[a] - umE[b]; });
L.xaxis16 = {domain: [fx(1010.7), fx(1765.6)], range: [-15.31, 13.4], anchor: 'y16',
  tickmode: 'array', tickvals: [-15, -10, -5, 0, 5, 10], ticks: 'outside', ticklen: 8, tickwidth: 2, tickcolor: 'black',
  showline: true, linewidth: 2, linecolor: 'black', showgrid: false, zeroline: false, tickfont: {size: 32}};
L.yaxis16 = {domain: [fy(1846.6), fy(1358.5)], range: [-9.16, 15.07], anchor: 'x16',
  tickmode: 'array', tickvals: [-5, 0, 5, 10, 15], ticks: 'outside', ticklen: 8, tickwidth: 2, tickcolor: 'black',
  showline: true, linewidth: 2, linecolor: 'black', showgrid: false, zeroline: false, tickfont: {size: 32}};
data.push({type: 'scatter', mode: 'markers', xaxis: 'x16', yaxis: 'y16',
  x: order.map(function (i) { return umX[i]; }), y: order.map(function (i) { return umY[i]; }),
  marker: {size: 6.5, color: order.map(function (i) { return umE[i]; }), cmin: 0, cmax: 3.89,
    colorscale: [[0, 'rgb(215,215,217)'], [0.28, 'rgb(192,175,218)'], [0.52, 'rgb(146,120,192)'], [0.78, 'rgb(98,86,170)'], [1, 'rgb(58,80,160)']],
    showscale: true,
    colorbar: {x: fx(1825.8), xanchor: 'left', y: fy(1556.2), yanchor: 'middle', len: 171, lenmode: 'pixels',
      thickness: 34, thicknessmode: 'pixels', outlinewidth: 0, xpad: 0, ypad: 0,
      tickmode: 'array', tickvals: [0, 1, 2, 3], ticks: 'inside', ticklen: 7, tickcolor: 'white', tickwidth: 1.5,
      tickfont: {size: 32, family: F}}}});
clusterNames.forEach(function (c, i) {
  ann.push({xref: 'x16', yref: 'y16', x: clusterLabelX[i], y: clusterLabelY[i], text: c, showarrow: false,
    xanchor: 'left', yanchor: 'middle', font: {size: 33, family: F}});
});
txt(1352, 1280, 'NRP2', 36);
txt(1371.6, 1925, 'UMAP_1', 33);
txt(925.7, 1616, 'UMAP_2', 33, {textangle: -90});

// panel letters
txt(15, 20, 'A', 36);
txt(25, 665, 'B', 36);
txt(38, 1275, 'C', 36);
txt(881, 1275, 'D', 36);

Plotly.newPlot('fig', data, L, {staticPlot: true});
</script>
</body>
</html>
